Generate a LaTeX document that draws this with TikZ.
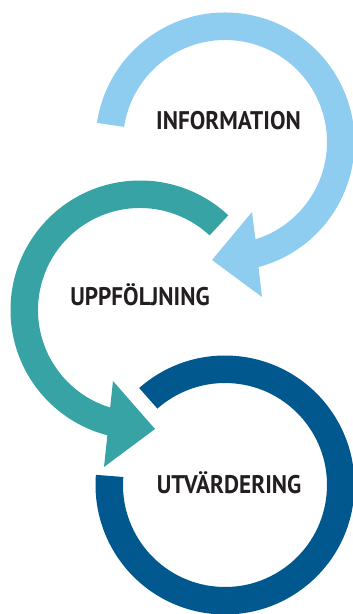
\documentclass[tikz,border=0pt]{standalone}
\usepackage{fontspec}
\usepackage{graphicx}
\setmainfont{PT Sans}
\definecolor{lightb}{HTML}{8FCDF0}
\definecolor{tealc}{HTML}{38A3A5}
\definecolor{darkb}{HTML}{00588F}
\definecolor{txt}{HTML}{231F20}
\tikzset{
  lbl/.style={font=\fontsize{25.5}{25.5}\selectfont\bfseries, text=txt, inner sep=0pt, anchor=base},
}
\newcommand{\sq}[1]{\scalebox{0.91}[1]{#1}}
\begin{document}
\begin{tikzpicture}[x=1pt,y=1pt]
\useasboundingbox (0,0) rectangle (353,614);
% light blue ring with arrow (center 225,472)
\fill[lightb, shift={(225,472)}]
  (171.5:129.5) arc[start angle=171.5, end angle=-75, radius=129.5]
  -- (37,-155) -- (-13,-118) -- (27,-70)
  -- (-72.6:102) arc[start angle=-72.6, end angle=171.5, radius=102] -- cycle;
% teal ring with arrow (center 140,304)
\fill[tealc, shift={(140,304)}]
  (47:129.5) arc[start angle=47, end angle=255.4, radius=129.5]
  -- (-36,-157) -- (15,-119) -- (-27,-71)
  -- (253:102) arc[start angle=253, end angle=47, radius=102] -- cycle;
% dark blue ring (center 225,129)
\fill[darkb, shift={(225,129)}]
  (131.5:129.5) arc[start angle=131.5, end angle=-184.5, radius=129.5]
  -- (-184.5:102) arc[start angle=-184.5, end angle=131.5, radius=102] -- cycle;
\node[lbl] (info) at (228.5,484) {\sq{INFORMATION}};
\node[lbl] (uppf) at (140,308) {\sq{UPPFÖLJNING}};
\node[lbl] (utv) at (229,120) {\sq{UTVÄRDERING}};
\end{tikzpicture}
\end{document}
